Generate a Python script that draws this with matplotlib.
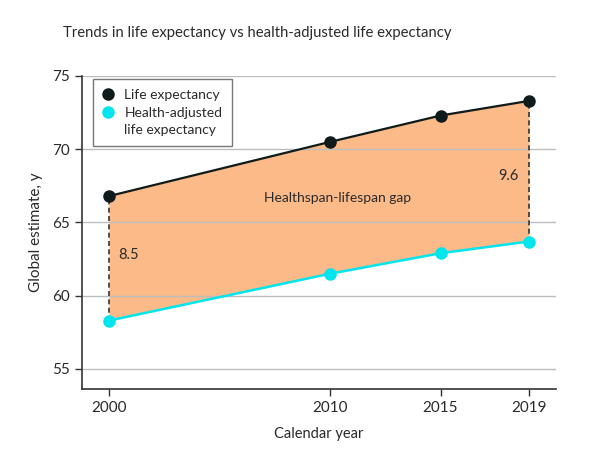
import matplotlib
matplotlib.use("Agg")
import matplotlib.pyplot as plt
from matplotlib.lines import Line2D

plt.rcParams['font.family'] = ['Lato', 'DejaVu Sans']

years = [2000, 2010, 2015, 2019]
life_expectancy = [66.8, 70.5, 72.3, 73.3]
health_adjusted = [58.3, 61.5, 62.9, 63.7]
yticks = [55, 60, 65, 70, 75]
xticks = [2000, 2010, 2015, 2019]
gap_2000 = "8.5"
gap_2019 = "9.6"

text_col = "#2a2a2a"
fill_col = "#FBBA87"
le_col = "#0f1a1a"
hale_col = "#00E5EE"

fig = plt.figure(figsize=(6.01, 4.57), dpi=100)
ax = fig.add_axes([0.1364, 0.1488, 0.925 - 0.1364, 0.8337 - 0.1488])

ax.fill_between(years, health_adjusted, life_expectancy, color=fill_col, zorder=1, linewidth=0)
for y in yticks:
    ax.axhline(y, color="#bdbdbd", lw=1.0, zorder=2)

ax.vlines([years[0], years[-1]], [health_adjusted[0], health_adjusted[-1]],
          [life_expectancy[0], life_expectancy[-1]], colors="#333333",
          linestyles=(0, (3, 2)), lw=1.2, zorder=3)

ax.plot(years, life_expectancy, color=le_col, lw=1.6, marker="o", ms=8, zorder=5)
ax.plot(years, health_adjusted, color=hale_col, lw=1.8, marker="o", ms=8, zorder=5)

ax.text(2000.4, 62.8, gap_2000, fontsize=10.5, color=text_col, ha="left", va="center")
ax.text(2018.55, 68.2, gap_2019, fontsize=10.5, color=text_col, ha="right", va="center")
ax.text(2010.36, 66.7, "Healthspan-lifespan gap", fontsize=10, color=text_col,
        ha="center", va="center")

ax.set_xlim(1998.78, 2020.22)
ax.set_ylim(53.63, 75)
ax.set_xticks(xticks)
ax.set_yticks(yticks)
ax.tick_params(axis="both", labelsize=11, colors="#333333", labelcolor=text_col,
               length=5, width=1, pad=4)
for s in ["top", "right"]:
    ax.spines[s].set_visible(False)
for s in ["left", "bottom"]:
    ax.spines[s].set_color("#333333")
    ax.spines[s].set_linewidth(1.2)

ax.set_xlabel("Calendar year", fontsize=10.5, color=text_col, labelpad=8)
ax.set_ylabel("Global estimate, y", fontsize=11, color=text_col, labelpad=6)

handles = [
    Line2D([], [], ls="none", marker="o", ms=8, color=le_col),
    Line2D([], [], ls="none", marker="o", ms=8, color=hale_col),
    Line2D([], [], ls="none", marker="none"),
]
labels = ["Life expectancy", "Health-adjusted", "life expectancy"]
leg = ax.legend(handles, labels, loc="upper left", bbox_to_anchor=(0.023, 0.99),
                frameon=True, fancybox=False, fontsize=10, handlelength=0.8,
                handletextpad=0.75, borderpad=0.72, labelspacing=0.4,
                edgecolor="#555555", borderaxespad=0)
leg.get_frame().set_linewidth(1.0)
for t in leg.get_texts():
    t.set_color(text_col)

fig.text(63 / 601, 1 - 33 / 457, "Trends in life expectancy vs health-adjusted life expectancy",
         fontsize=10.7, color=text_col, ha="left", va="center")

fig.savefig("out.png", dpi=100, facecolor="white")
